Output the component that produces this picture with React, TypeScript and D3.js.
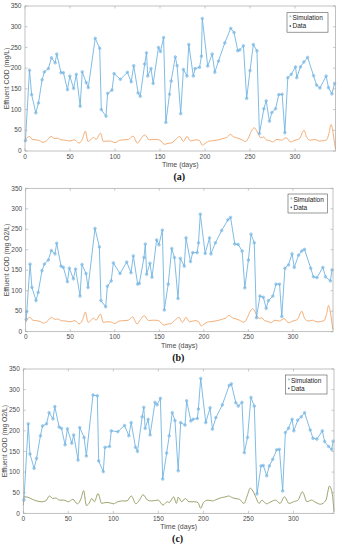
import React from "react";
import * as d3 from "d3";

const xTicks = [0, 50, 100, 150, 200, 250, 300];
const yTicks = [0, 50, 100, 150, 200, 250, 300, 350];
const panelTags = ["(a)", "(b)", "(c)"];
const yLabels = ["Effluent COD (mg/L)", "Effluent COD (mg O2/L)", "Effluent COD (mg O2/L)"];
const legendNames = ["Simulation", "Data"];

const simA: [number, number][] = [
  [0.5, 25], [5, 195], [7.4, 136], [12, 92], [15, 116], [19, 172], [21.5, 191], [26, 199], [29.4, 225], [33.5, 213],
  [35.3, 234], [40, 189], [42.7, 189], [47.2, 148], [49.8, 181], [54, 151], [57, 185], [61.3, 108], [63.6, 191], [68, 165],
  [70.3, 153], [78, 272], [83, 248], [84.8, 100], [90, 84], [91.8, 139], [96.7, 147], [99, 187], [106, 173], [113.8, 190],
  [118, 167], [120.8, 206], [125.7, 140], [128, 132], [133, 210], [135, 237], [136.4, 181], [140, 199], [142.4, 163], [148.3, 250],
  [150.5, 240], [154, 274], [156.5, 69], [160.6, 137], [162.4, 169], [167, 227], [169, 206], [173, 90], [176, 197], [180, 181],
  [182, 257], [187, 181], [189, 199], [194, 202], [196, 229], [197, 320], [203, 205], [208, 234], [210.9, 190], [215, 217],
  [222, 261], [228.6, 296], [232.3, 286], [236.4, 242], [238.6, 244], [242.7, 254], [246.3, 127], [250, 194], [253.7, 257], [257.7, 242],
  [260.5, 42], [265.4, 102], [268, 121], [271.6, 72], [274.3, 93], [278.4, 102], [282, 136], [285.7, 137], [288.7, 44], [292, 177],
  [295.8, 185], [300.6, 203], [302, 177], [306, 203], [309.9, 215], [314, 226], [320.6, 182], [324, 159], [327.7, 152], [334.6, 181],
  [337.2, 153], [341, 138], [344, 163],
];

const simB: [number, number][] = [
  [0.5, 30], [1.2, 49], [4.9, 165], [7, 108], [11.6, 76], [14, 96], [18.3, 149], [21, 165], [25.4, 175], [28.8, 198], [32.9, 190],
  [34.8, 216], [39.7, 160], [42.3, 157], [46.8, 122], [49, 155], [53.5, 129], [56, 153], [61, 87], [63.2, 164], [67.7, 142],
  [70, 108], [77.8, 252], [82.7, 207], [84.5, 76], [89.8, 61], [91.7, 111], [96, 124], [98.4, 168], [105.9, 142], [113.4, 170],
  [118.2, 144], [120.8, 185], [125.7, 116], [127.6, 118], [132.8, 181], [134.3, 214], [135.8, 140], [139.5, 167], [141.8, 133], [147, 224],
  [149.6, 212], [153.4, 248], [155.6, 53], [160, 116], [164, 203], [167, 181], [171, 81], [173.6, 179], [178, 160], [180, 229],
  [185, 171], [187.5, 193], [192.5, 193], [194, 217], [196, 287], [201.5, 191], [206.4, 229], [208, 190], [213, 217], [220, 247],
  [227, 273], [230, 279], [234.7, 214], [238.5, 213], [243, 197], [246, 107], [250, 175], [253, 238], [256.6, 217], [259, 34],
  [263, 87], [266.8, 84], [270, 57], [272.5, 76], [277.5, 87], [281, 116], [285, 116], [287.5, 37], [291, 155], [295, 163],
  [299, 190], [301.5, 157], [306.4, 187], [310, 197], [313, 201], [320, 155], [323, 134], [327, 132], [333.6, 157], [336.6, 134],
  [342, 124], [344, 151],
];

const simC: [number, number][] = [
  [0.7, 32], [5.5, 217], [7.4, 144], [12, 109], [14.7, 133], [19, 188], [21.4, 212], [25.8, 217], [28.7, 244], [33, 229],
  [35, 259], [39.8, 209], [42.4, 206], [46.4, 166], [49, 205], [53.8, 170], [56, 190], [60.8, 129], [62.7, 208], [67.5, 184],
  [70, 139], [77.4, 287], [82.2, 285], [83.7, 127], [88.8, 101], [90.7, 160], [95.8, 162], [97.7, 200], [105, 198], [112.4, 213],
  [117.2, 188], [119.8, 220], [124.6, 160], [126.8, 150], [132, 234], [133.8, 257], [135.3, 206], [138.6, 228], [140.8, 190], [146.3, 269],
  [148.5, 263], [152.2, 279], [154.8, 83], [159.2, 146], [162, 188], [165.4, 244], [168.4, 225], [172, 103], [174.7, 220], [179.6, 214],
  [181.4, 273], [186, 224], [188.5, 228], [193.3, 230], [194.4, 253], [197, 327], [202.6, 220], [207.4, 256], [210, 204], [213.8, 232],
  [221, 263], [228.6, 310], [231, 314], [236, 268], [238.7, 260], [242.8, 269], [245.4, 147], [249, 184], [252.8, 281], [256.5, 260],
  [259.5, 47], [264, 115], [266.5, 116], [270.3, 91], [273.2, 115], [277, 131], [281.4, 154], [284.4, 155], [288, 54], [291, 196],
  [294.4, 206], [298.5, 228], [300.4, 200], [304.8, 226], [308.6, 234], [312.3, 244], [318.6, 202], [321.6, 182], [326, 180], [332, 200],
  [334.6, 174], [339, 162], [342.4, 155], [344, 175],
];

const dataAB: [number, number][] = [
  [0, 22], [1.5, 30], [5, 35], [8, 28], [12, 27], [16, 25], [20, 21], [24, 25], [29, 35], [33, 30], [36, 31], [40, 27],
  [45, 26], [50, 24], [55, 27], [60, 19], [64, 30], [67, 48], [70, 23], [73, 27], [76, 33], [79, 28], [84, 43], [87, 23],
  [91, 24], [95, 24], [100, 20], [105, 26], [110, 27], [115, 28], [120, 36], [125, 19], [129, 30], [133, 39], [138, 27], [142, 28],
  [146, 28], [150, 26], [155, 16], [160, 19], [162, 19], [167, 27], [172, 35], [176, 23], [180, 35], [184, 24], [190, 27], [194, 25],
  [197, 14], [200, 18], [205, 24], [210, 25], [215, 27], [220, 30], [225, 34], [228, 40], [232, 34], [235, 32], [240, 28], [245, 23],
  [249, 35], [252, 50], [255, 56], [258, 46], [262, 32], [265, 34], [268, 27], [272, 25], [275, 22], [280, 28], [285, 26], [290, 32],
  [295, 22], [300, 26], [305, 30], [310, 50], [313, 33], [317, 26], [322, 28], [327, 24], [331, 25], [335, 27], [338, 45], [340, 64],
  [342, 48], [344, 18], [345, 5],
];

const dataC: [number, number][] = [
  [0, 20], [1, 40], [5, 39], [10, 34], [15, 30], [20, 28], [25, 30], [29, 42], [33, 36], [36, 37], [40, 32], [45, 32],
  [50, 28], [55, 34], [60, 23], [64, 35], [67, 55], [70, 19], [73, 24], [76, 36], [79, 28], [83, 48], [87, 24], [91, 26],
  [95, 26], [100, 23], [105, 28], [110, 30], [115, 30], [120, 42], [125, 23], [129, 32], [133, 45], [138, 32], [142, 30], [146, 31],
  [150, 32], [155, 20], [160, 28], [162, 26], [167, 40], [170, 24], [172, 39], [176, 28], [180, 36], [184, 28], [190, 28], [194, 26],
  [197, 12], [200, 26], [205, 32], [210, 30], [215, 34], [220, 38], [225, 40], [228, 42], [232, 38], [235, 36], [240, 34], [245, 24],
  [249, 45], [252, 61], [255, 54], [258, 40], [262, 24], [265, 32], [268, 26], [270, 23], [275, 28], [280, 32], [285, 24], [290, 40],
  [295, 24], [300, 28], [305, 32], [310, 52], [315, 28], [320, 32], [325, 26], [330, 22], [336, 32], [340, 66], [343, 48], [345, 4],
];

const panels = [
  { left: 25, right: 335.5, top: 6, bottom: 151, sim: simA, data: dataAB, dataColor: "#f0a466", legend: [287, 12.7, 41, 19.5] },
  { left: 25.7, right: 333, top: 188.3, bottom: 331.7, sim: simB, data: dataAB, dataColor: "#f0a466", legend: [288, 194, 39.5, 19] },
  { left: 23.3, right: 334, top: 369, bottom: 513.3, sim: simC, data: dataC, dataColor: "#8e9a5c", legend: [285.5, 375, 41.5, 19] },
];

const BLUE = "#72b4e2";
const AXIS = "#a6a6a6";
const TXT = "#4a4a4a";
const FONT = "'Liberation Sans', Arial, sans-serif";

function Panel({ p, i }: { p: (typeof panels)[number]; i: number }) {
  const x = d3.scaleLinear().domain([0, 345]).range([p.left, p.right]);
  const y = d3.scaleLinear().domain([0, 350]).range([p.bottom, p.top]);
  const simLine = d3.line<[number, number]>().x((d) => x(d[0])).y((d) => y(d[1]));
  const dataLine = d3
    .line<[number, number]>()
    .x((d) => x(d[0]))
    .y((d) => y(d[1]))
    .curve(d3.curveMonotoneX);
  const tl = 2.5;
  const cx = (p.left + p.right) / 2;
  const [lx, ly, lw, lh] = p.legend;
  return (
    <g>
      <rect x={p.left} y={p.top} width={p.right - p.left} height={p.bottom - p.top} fill="#fff" />
      <path d={dataLine(p.data) || ""} fill="none" stroke={p.dataColor} strokeWidth={0.9} />
      <path d={simLine(p.sim) || ""} fill="none" stroke={BLUE} strokeWidth={0.9} />
      {p.sim.map((d, k) => (
        <g key={k}>
          <circle cx={x(d[0])} cy={y(d[1])} r={1.3} fill="none" stroke={BLUE} strokeWidth={0.6} />
          <path
            d={`M${x(d[0]) - 1.3},${y(d[1])}h2.6M${x(d[0])},${y(d[1]) - 1.3}v2.6`}
            stroke={BLUE}
            strokeWidth={0.5}
          />
        </g>
      ))}
      <rect
        x={p.left}
        y={p.top}
        width={p.right - p.left}
        height={p.bottom - p.top}
        fill="none"
        stroke={AXIS}
        strokeWidth={0.7}
      />
      {xTicks.map((t) => (
        <g key={"x" + t}>
          <line x1={x(t)} x2={x(t)} y1={p.bottom} y2={p.bottom - tl} stroke={AXIS} strokeWidth={0.6} />
          <line x1={x(t)} x2={x(t)} y1={p.top} y2={p.top + tl} stroke={AXIS} strokeWidth={0.6} />
          <text x={x(t)} y={p.bottom + 7.5} fontSize={6.5} fill={TXT} textAnchor="middle" fontFamily={FONT}>
            {t}
          </text>
        </g>
      ))}
      {yTicks.map((t) => (
        <g key={"y" + t}>
          <line x1={p.left} x2={p.left + tl} y1={y(t)} y2={y(t)} stroke={AXIS} strokeWidth={0.6} />
          <line x1={p.right} x2={p.right - tl} y1={y(t)} y2={y(t)} stroke={AXIS} strokeWidth={0.6} />
          <text x={p.left - 3.5} y={y(t) + 2.2} fontSize={6.5} fill={TXT} textAnchor="end" fontFamily={FONT}>
            {t}
          </text>
        </g>
      ))}
      <text x={cx} y={p.bottom + 16} fontSize={7} fill={TXT} textAnchor="middle" fontFamily={FONT}>
        Time (days)
      </text>
      <text
        transform={`translate(${p.left - 16.5},${(p.top + p.bottom) / 2}) rotate(-90)`}
        fontSize={6.8}
        fill={TXT}
        textAnchor="middle"
        fontFamily={FONT}
      >
        {yLabels[i]}
      </text>
      <text
        x={cx - 1}
        y={p.bottom + 29}
        fontSize={10}
        fontWeight="bold"
        fill="#111"
        textAnchor="middle"
        fontFamily="'Liberation Serif', 'Times New Roman', serif"
      >
        {panelTags[i]}
      </text>
      <rect x={lx} y={ly} width={lw} height={lh} fill="#fff" stroke="#555" strokeWidth={0.6} />
      <text x={lx + 2} y={ly + 7.5} fontSize={6.5} fill={BLUE} fontFamily={FONT}>
        *
      </text>
      <text x={lx + 5.5} y={ly + 7.5} fontSize={6.5} fill="#222" fontFamily={FONT}>
        {legendNames[0]}
      </text>
      <circle cx={lx + 3.3} cy={ly + 13.3} r={0.9} fill="#3a6f99" />
      <text x={lx + 5.5} y={ly + 15.5} fontSize={6.5} fill="#222" fontFamily={FONT}>
        {legendNames[1]}
      </text>
    </g>
  );
}

export default function App() {
  return (
    <svg
      width={339}
      height={550}
      style={{ position: "absolute", left: 0, top: 0, background: "#fff" }}
      xmlns="http://www.w3.org/2000/svg"
    >
      <rect width={339} height={550} fill="#fff" />
      {panels.map((p, i) => (
        <Panel key={i} p={p} i={i} />
      ))}
    </svg>
  );
}
